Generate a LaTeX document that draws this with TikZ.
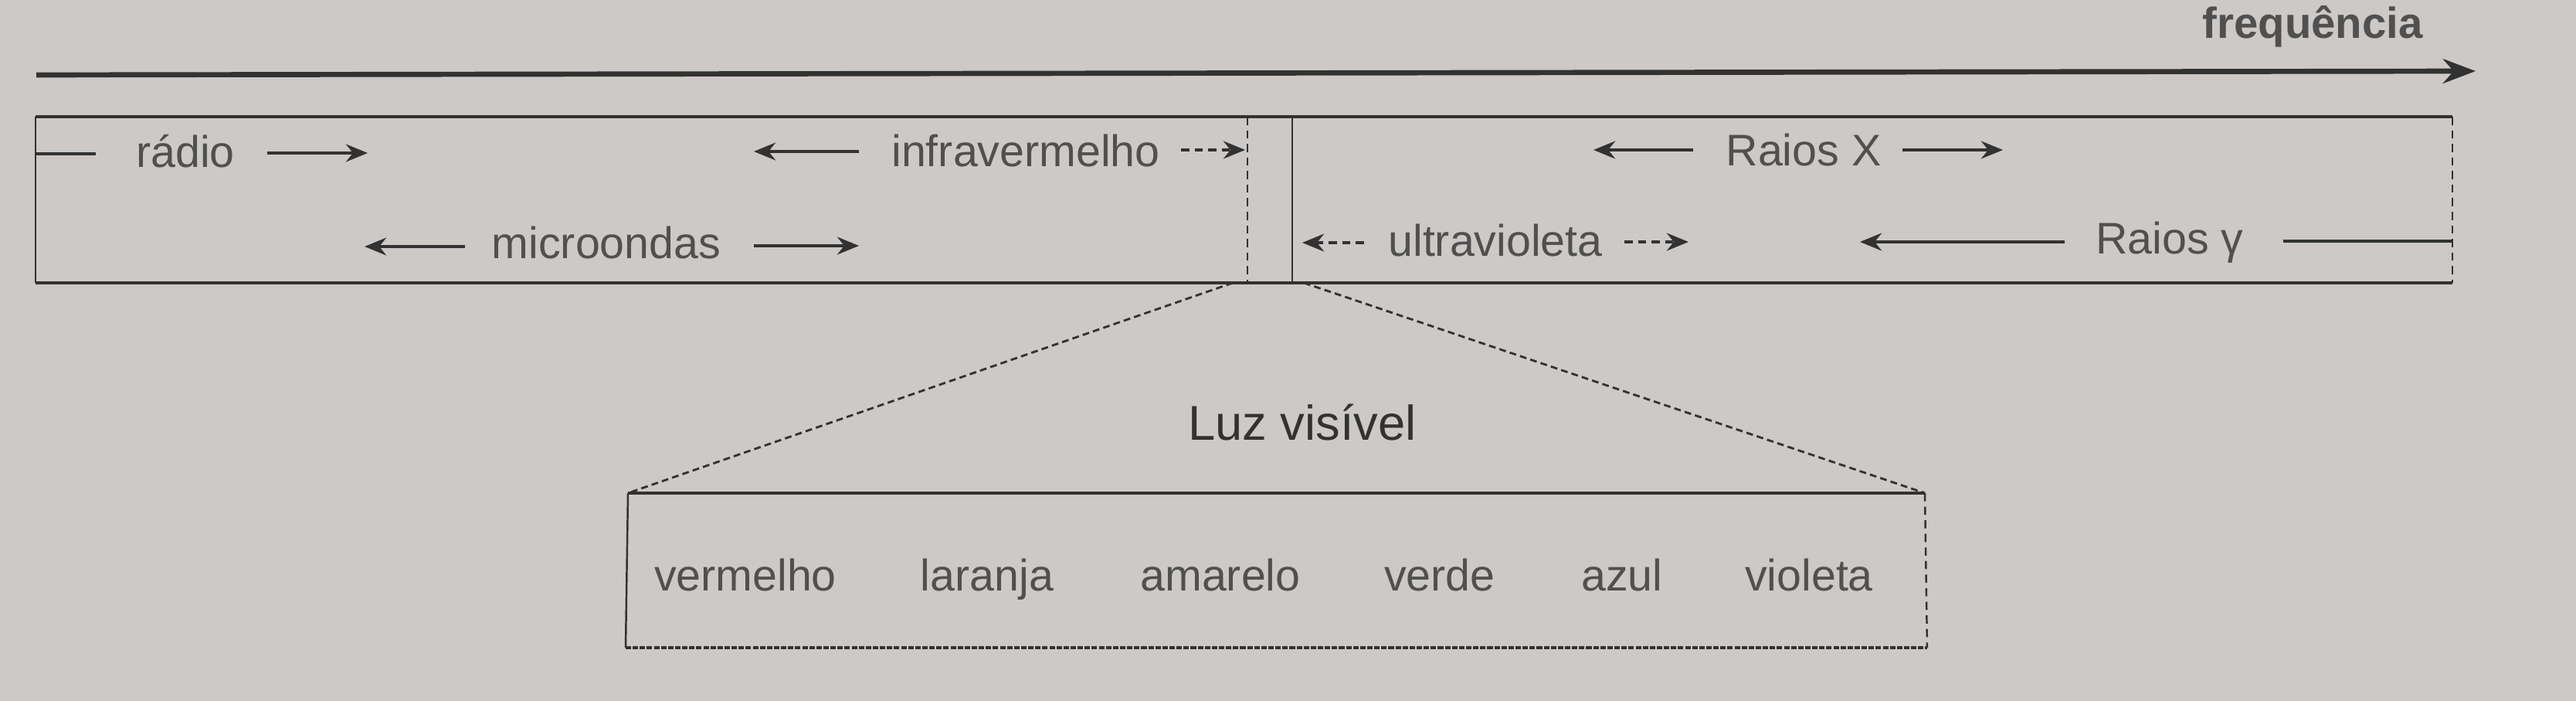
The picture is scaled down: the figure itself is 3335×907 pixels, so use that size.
\documentclass[tikz,border=0pt]{standalone}
\usepackage{fontspec}
\setmainfont{Liberation Sans}
\usetikzlibrary{arrows.meta}
\definecolor{paper}{RGB}{204,201,199}
\definecolor{ink}{RGB}{50,50,50}
\definecolor{txt}{RGB}{80,80,80}
\begin{document}
\begin{tikzpicture}[x=0.01cm,y=-0.01cm,
  lbl/.style={inner sep=0pt, anchor=base, text=txt, font=\fontsize{16.3}{19}\selectfont},
  sarr/.style={draw=ink, line width=1pt, -{Stealth[length=8pt,width=6.5pt]}},
  darr/.style={sarr, densely dashed},
  thick line/.style={draw=ink, line width=1.2pt},
  thin line/.style={draw=ink, line width=0.7pt},
  fan/.style={draw=ink, line width=0.8pt, dash pattern=on 2.5pt off 1.5pt}]
\fill[paper] (0,0) rectangle (3335,907);
\useasboundingbox (0,0) rectangle (3335,907);

% frequency axis
\coordinate (fs) at (47,97);
\coordinate (fe) at (3205,92);
\draw[draw=ink, line width=1.9pt, -{Stealth[length=12pt,width=9pt]}] (fs) -- (fe);
\node[lbl, font=\fontsize{16}{19}\selectfont\bfseries, text=txt] (freq) at (2994,50) {frequência};

% spectrum box
\coordinate (b1) at (46,151);
\coordinate (b2) at (3175,151);
\coordinate (b3) at (3175,366);
\coordinate (b4) at (46,366);
\draw[thick line] (b1) -- (b2);
\draw[thick line] (b4) -- (b3);
\draw[thin line] (b1) -- (b4);
\draw[thin line, densely dashed] (b2) -- (b3);

% narrow visible-light box
\coordinate (n1) at (1615,151);
\coordinate (n2) at (1615,366);
\coordinate (n3) at (1673,151);
\coordinate (n4) at (1673,366);
\draw[thin line, densely dashed] (n1) -- (n2);
\draw[thin line] (n3) -- (n4);

% row 1
\node[lbl] (radio) at (240,217) {rádio};
\coordinate (r0) at (46,199);  \coordinate (r1) at (124,199);
\draw[draw=ink, line width=1pt] (r0) -- (r1);
\coordinate (r2) at (346,198); \coordinate (r3) at (476,198);
\draw[sarr] (r2) -- (r3);

\node[lbl] (infra) at (1328,216) {infravermelho};
\coordinate (i0) at (1112,196); \coordinate (i1) at (976,196);
\draw[sarr] (i0) -- (i1);
\coordinate (i2) at (1529,194); \coordinate (i3) at (1612,194);
\draw[darr] (i2) -- (i3);

\node[lbl] (rx) at (2335,215) {Raios X};
\coordinate (x0) at (2192,194); \coordinate (x1) at (2063,194);
\draw[sarr] (x0) -- (x1);
\coordinate (x2) at (2463,194); \coordinate (x3) at (2593,194);
\draw[sarr] (x2) -- (x3);

% row 2
\node[lbl] (micro) at (785,335) {microondas};
\coordinate (m0) at (602,319); \coordinate (m1) at (472,319);
\draw[sarr] (m0) -- (m1);
\coordinate (m2) at (976,318); \coordinate (m3) at (1112,318);
\draw[sarr] (m2) -- (m3);

\node[lbl] (uv) at (1936,332) {ultravioleta};
\coordinate (u0) at (1766,314); \coordinate (u1) at (1686,314);
\draw[darr] (u0) -- (u1);
\coordinate (u2) at (2103,313); \coordinate (u3) at (2186,313);
\draw[darr] (u2) -- (u3);

\node[lbl] (rg) at (2809,329) {Raios γ};
\coordinate (g0) at (2673,313); \coordinate (g1) at (2408,313);
\draw[sarr] (g0) -- (g1);
\coordinate (g2) at (2956,312); \coordinate (g3) at (3175,312);
\draw[draw=ink, line width=1pt] (g2) -- (g3);

% fan to visible light box
\coordinate (v1) at (813,638);
\coordinate (v2) at (2492,638);
\coordinate (v3) at (2495,838);
\coordinate (v4) at (810,838);
\coordinate (f1) at (1596,366);
\coordinate (f2) at (1688,366);
\draw[fan] (f1) -- (v1);
\draw[fan] (f2) -- (v2);
\draw[thick line] (v1) -- (v2);
\draw[thin line] (v1) -- (v4);
\draw[thin line, densely dashed] (v2) -- (v3);
\draw[draw=ink, line width=1.2pt, dash pattern=on 2pt off 0.6pt] (v4) -- (v3);

\node[lbl, text=ink, font=\fontsize{18}{21}\selectfont] (luz) at (1686,570) {Luz visível};

\node[lbl] (c1) at (965,765) {vermelho};
\node[lbl] (c2) at (1278,765) {laranja};
\node[lbl] (c3) at (1580,765) {amarelo};
\node[lbl] (c4) at (1864,765) {verde};
\node[lbl] (c5) at (2100,765) {azul};
\node[lbl] (c6) at (2342,765) {violeta};
\end{tikzpicture}
\end{document}
